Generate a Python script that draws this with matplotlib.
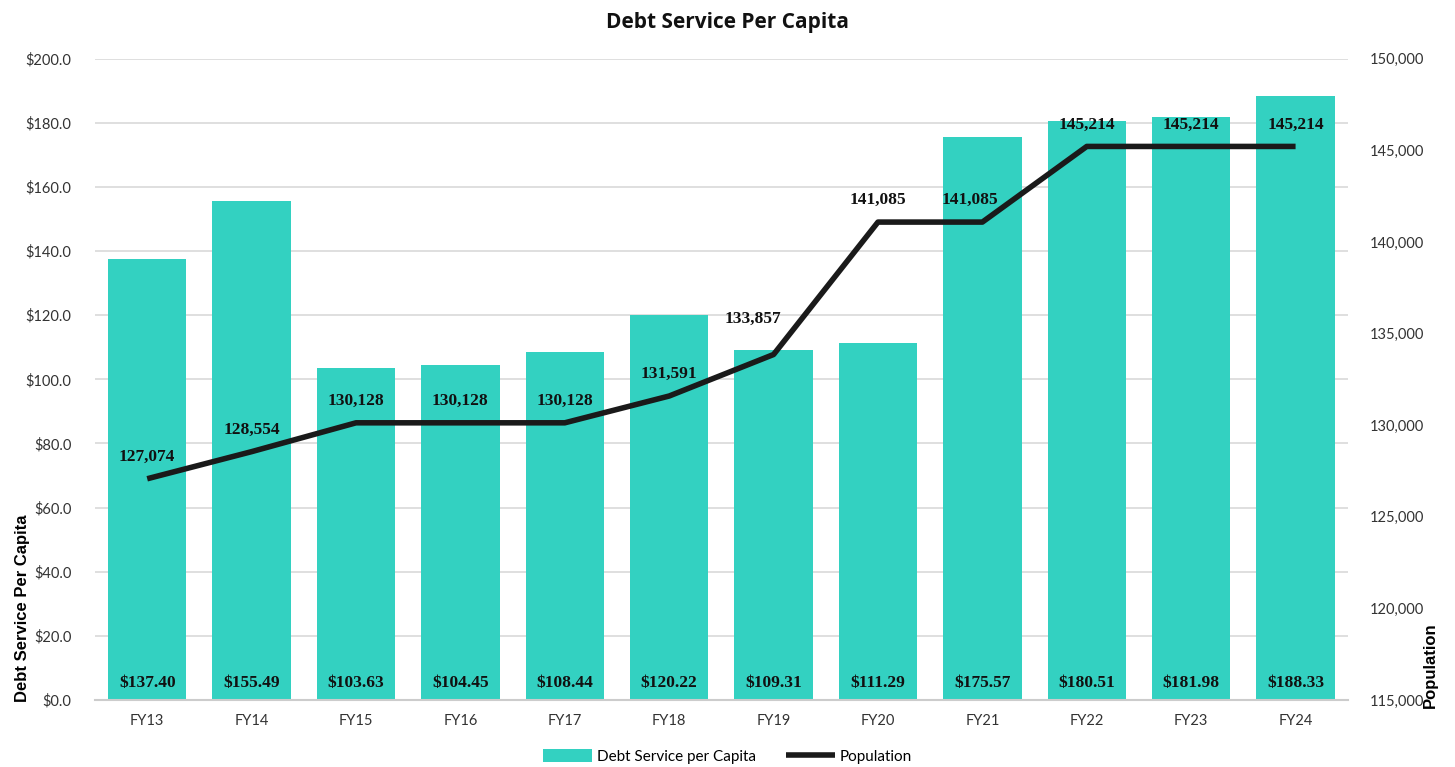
import matplotlib
matplotlib.use("Agg")
import matplotlib.pyplot as plt
from matplotlib.ticker import FuncFormatter, MultipleLocator

categories = ["FY13", "FY14", "FY15", "FY16", "FY17", "FY18", "FY19", "FY20", "FY21", "FY22", "FY23", "FY24"]
debt_per_capita = [137.40, 155.49, 103.63, 104.45, 108.44, 120.22, 109.31, 111.29, 175.57, 180.51, 181.98, 188.33]
population = [127074, 128554, 130128, 130128, 130128, 131591, 133857, 141085, 141085, 145214, 145214, 145214]

BAR_COLOR = "#33D1C1"
LINE_COLOR = "#1a1a1a"

fig = plt.figure(figsize=(14.55, 7.67), dpi=100)
ax = fig.add_axes([0.0653, 0.0874, 0.861, 0.836])
ax2 = ax.twinx()

x = list(range(len(categories)))
ax.bar(x, debt_per_capita, width=0.75, color=BAR_COLOR, zorder=2, label="Debt Service per Capita")
ax.set_xlim(-0.5, len(categories) - 0.5)
ax.set_ylim(0, 200)
ax.yaxis.set_major_locator(MultipleLocator(20))
ax.yaxis.set_major_formatter(FuncFormatter(lambda v, p: f"${v:.1f}"))
ax.set_xticks(x)
ax.set_xticklabels(categories)
ax.grid(axis="y", color="#d9d9d9", linewidth=1.2, zorder=0)
ax.set_axisbelow(True)
for s in ["top", "right", "left"]:
    ax.spines[s].set_visible(False)
ax.spines["bottom"].set_color("#cccccc")
ax.spines["bottom"].set_linewidth(1.5)
ax.tick_params(axis="both", length=0, labelsize=10.5, labelcolor="#333333")
ax.tick_params(axis="x", pad=10)
ax.tick_params(axis="y", pad=17)
for lab in ax.get_yticklabels() + ax.get_xticklabels():
    lab.set_fontfamily("Lato")

ax.set_ylabel("Debt Service Per Capita", fontsize=12, fontweight="bold", fontfamily="Liberation Sans")
ax.yaxis.set_label_coords(-0.052, 0.143)

for xi, v in zip(x, debt_per_capita):
    ax.text(xi, 5.3, f"${v:.2f}", ha="center", va="center", fontsize=12.5, fontweight="bold",
            fontfamily="Liberation Serif", color="#111111", zorder=3)

ax2.plot(x, population, color=LINE_COLOR, linewidth=4, zorder=4, label="Population", solid_capstyle="butt")
ax2.set_ylim(115000, 150000)
ax2.yaxis.set_major_locator(MultipleLocator(5000))
ax2.yaxis.set_major_formatter(FuncFormatter(lambda v, p: f"{int(v):,}"))
for s in ["top", "right", "left", "bottom"]:
    ax2.spines[s].set_visible(False)
ax2.tick_params(axis="y", length=0, labelsize=10.5, labelcolor="#333333", pad=16)
for lab in ax2.get_yticklabels():
    lab.set_fontfamily("Lato")
ax2.set_ylabel("Population", fontsize=12, fontweight="bold", fontfamily="Liberation Sans", rotation=90)
ax2.yaxis.set_label_coords(1.060, 0.055)

label_offsets = [(0, 22), (0, 22), (0, 22), (0, 22), (0, 22), (0, 22), (-21, 36), (0, 22), (-12, 22), (0, 22), (0, 22), (0, 22)]
for xi, p, off in zip(x, population, label_offsets):
    ax2.annotate(f"{p:,}", (xi, p), xytext=off, textcoords="offset pixels", ha="center", va="center",
                 fontsize=12.5, fontweight="bold", fontfamily="Liberation Serif", color="#111111", zorder=5)

fig.suptitle("Debt Service Per Capita", y=0.985, fontsize=15, fontweight="bold", fontfamily="Open Sans", color="#111111")

h1, l1 = ax.get_legend_handles_labels()
h2, l2 = ax2.get_legend_handles_labels()
fig.legend(h1 + h2, l1 + l2, loc="center", bbox_to_anchor=(0.5, 0.014), ncol=2, frameon=False,
           prop={"family": "Lato", "size": 11}, handlelength=3.2, handleheight=0.9, columnspacing=2.0, handletextpad=0.3)

fig.savefig("out.png", dpi=100)
